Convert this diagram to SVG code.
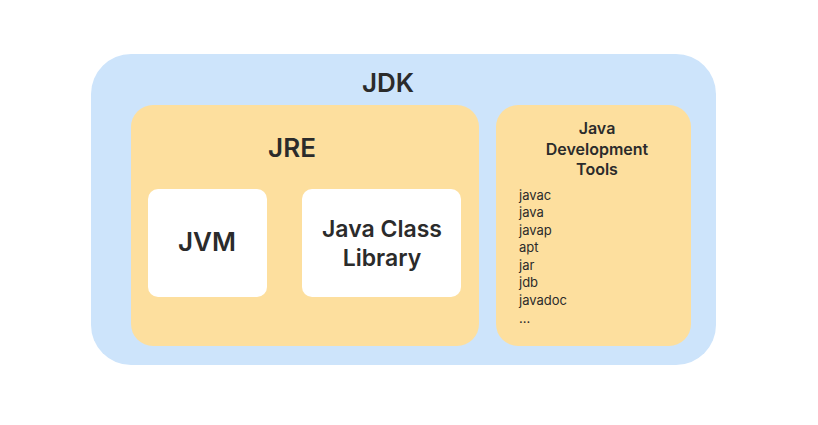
<svg xmlns="http://www.w3.org/2000/svg" width="818" height="425" viewBox="0 0 818 425">
<style>
text{font-family:Inter,"Liberation Sans",sans-serif;fill:#2b2b2b}
.b{font-weight:600}
.blue{fill:#cde4fb}
.ora{fill:#fddf9e}
.wh{fill:#fff}
.t{font-size:13px}
</style>
<rect width="818" height="425" fill="#fff"/>
<g id="jdk"><rect class="blue" x="91" y="54" width="625" height="311" rx="40"/><text class="b" x="388" y="92" font-size="26" text-anchor="middle">JDK</text></g>
<g id="jre"><rect class="ora" x="131" y="105" width="348" height="241" rx="22"/><text class="b" x="292" y="157" font-size="26" text-anchor="middle">JRE</text></g>
<g id="jvm"><rect class="wh" x="148" y="189" width="119" height="108" rx="10"/><text class="b" x="207" y="251" font-size="26" text-anchor="middle">JVM</text></g>
<g id="jcl"><rect class="wh" x="302" y="189" width="159" height="108" rx="10"/><text class="b" x="382" y="237" font-size="23" text-anchor="middle">Java Class</text><text class="b" x="382" y="266" font-size="23" text-anchor="middle">Library</text></g>
<g id="tools"><rect class="ora" x="496" y="105" width="195" height="241" rx="22"/>
<text class="b" font-size="16" text-anchor="middle"><tspan x="597" y="134">Java</tspan><tspan x="597" y="155">Development</tspan><tspan x="597" y="175">Tools</tspan></text>
<text class="t"><tspan x="519" y="200">javac</tspan><tspan x="519" y="217">java</tspan><tspan x="519" y="235">javap</tspan><tspan x="519" y="252">apt</tspan><tspan x="519" y="270">jar</tspan><tspan x="519" y="287">jdb</tspan><tspan x="519" y="305">javadoc</tspan><tspan x="519" y="323">...</tspan></text></g>
<g id="connectors"/>
</svg>
